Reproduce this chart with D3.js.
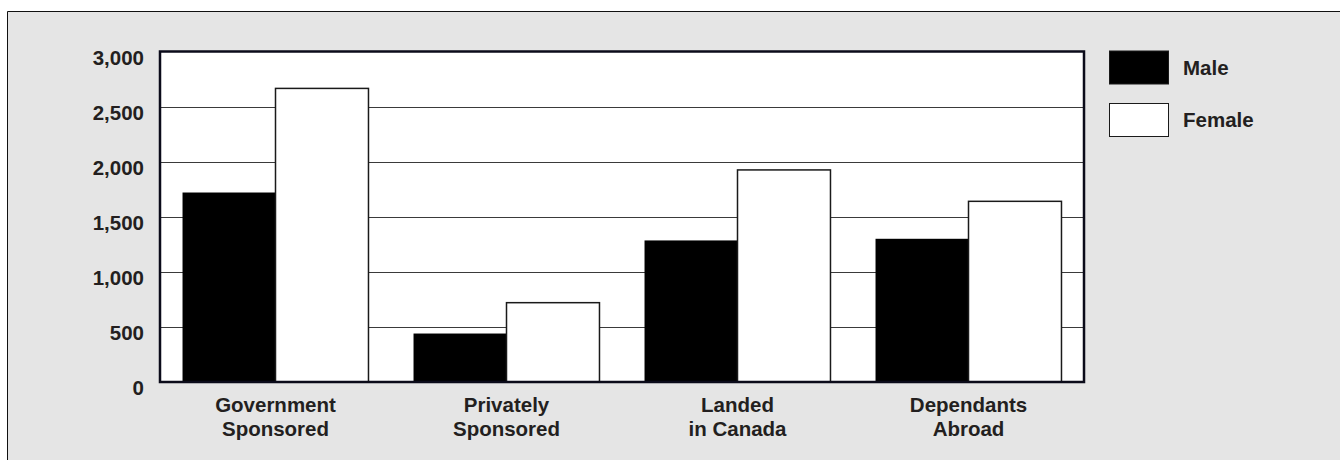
<!DOCTYPE html>
<html>
<head>
<meta charset="utf-8">
<script src="https://cdn.jsdelivr.net/npm/d3@7/dist/d3.min.js"></script>
<style>
  html, body { margin: 0; padding: 0; background: #ffffff; }
  svg text { font-family: "Liberation Sans", Arial, sans-serif; font-weight: bold; fill: #231f20; }
</style>
</head>
<body>
<svg id="chart" width="1340" height="460"></svg>
<script>
const categories = [["Government", "Sponsored"], ["Privately", "Sponsored"], ["Landed", "in Canada"], ["Dependants", "Abroad"]];
const seriesNames = ["Male", "Female"];
const maleValues = [1720, 440, 1285, 1300];
const femaleValues = [2665, 720, 1925, 1640];
const yTicks = [0, 500, 1000, 1500, 2000, 2500, 3000];

const FS = 20.5;
const svg = d3.select("#chart");
const W = 1340, H = 460;
const plot = { left: 160, right: 1084, top: 51.5, bottom: 382 };

// background panel
svg.append("rect").attr("x", 7.5).attr("y", 11.5).attr("width", W).attr("height", H)
  .attr("fill", "#e5e5e5");
svg.append("line").attr("x1", 7.5).attr("x2", W).attr("y1", 11.5).attr("y2", 11.5)
  .attr("stroke", "#111").attr("stroke-width", 1);
svg.append("line").attr("x1", 7.5).attr("x2", 7.5).attr("y1", 11.5).attr("y2", H)
  .attr("stroke", "#111").attr("stroke-width", 1);

const keys = categories.map(c => c.join(" "));
const x0 = d3.scaleBand().domain(keys).range([plot.left, plot.right])
  .paddingInner(0.195).paddingOuter(0.0975);
const x1 = d3.scaleBand().domain(seriesNames).range([0, x0.bandwidth()]).padding(0);
const y = d3.scaleLinear().domain([0, 3000]).range([plot.bottom, plot.top]);

// plot background
svg.append("rect").attr("x", plot.left).attr("y", plot.top)
  .attr("width", plot.right - plot.left).attr("height", plot.bottom - plot.top)
  .attr("fill", "#ffffff");

// gridlines
svg.append("g").selectAll("line").data(yTicks.filter(t => t > 0 && t < 3000)).join("line")
  .attr("x1", plot.left).attr("x2", plot.right)
  .attr("y1", d => Math.round(y(d)) + 0.5).attr("y2", d => Math.round(y(d)) + 0.5)
  .attr("stroke", "#3a3a3a").attr("stroke-width", 1.2);

const data = keys.map((k, i) => ({ key: k, values: [maleValues[i], femaleValues[i]] }));

const groups = svg.append("g").selectAll("g").data(data).join("g")
  .attr("transform", d => `translate(${x0(d.key)},0)`);
groups.selectAll("rect").data(d => d.values.map((v, j) => ({ name: seriesNames[j], v }))).join("rect")
  .attr("x", d => x1(d.name))
  .attr("y", d => y(d.v))
  .attr("width", x1.bandwidth())
  .attr("height", d => plot.bottom - y(d.v))
  .attr("fill", d => d.name === "Male" ? "#000000" : "#ffffff")
  .attr("stroke", d => d.name === "Male" ? "none" : "#1a1a1a")
  .attr("stroke-width", 1.5);

// frame
svg.append("rect").attr("x", plot.left).attr("y", plot.top)
  .attr("width", plot.right - plot.left).attr("height", plot.bottom - plot.top)
  .attr("fill", "none").attr("stroke", "#0b0b1a").attr("stroke-width", 2.5);

// y axis labels
const yAxis = d3.axisLeft(y).tickValues(yTicks).tickSize(0).tickPadding(0)
  .tickFormat(d3.format(","));
const ya = svg.append("g").attr("transform", `translate(144,0)`).call(yAxis);
ya.select(".domain").remove();
ya.selectAll("text").attr("font-size", FS).attr("dy", null).attr("y", 12.5)
  .attr("font-family", "Liberation Sans, Arial, sans-serif").attr("fill", "#231f20");

// x labels
const xl = svg.append("g").selectAll("text").data(categories).join("text")
  .attr("x", (d, i) => x0(keys[i]) + x0.bandwidth() / 2)
  .attr("y", 412)
  .attr("text-anchor", "middle").attr("font-size", FS);
xl.selectAll("tspan").data(d => d).join("tspan")
  .attr("x", function () { return d3.select(this.parentNode).attr("x"); })
  .attr("dy", (d, i) => i === 0 ? 0 : 24)
  .text(d => d);

// legend
const legend = svg.append("g").selectAll("g").data(seriesNames).join("g")
  .attr("transform", (d, i) => `translate(1109.5,${51 + i * 52.5})`);
legend.append("rect").attr("width", 59).attr("height", 33)
  .attr("fill", d => d === "Male" ? "#000000" : "#ffffff")
  .attr("stroke", "#1a1a1a").attr("stroke-width", 1);
legend.append("text").attr("x", 73.5).attr("y", 23.5).attr("font-size", FS).text(d => d);
</script>
</body>
</html>
